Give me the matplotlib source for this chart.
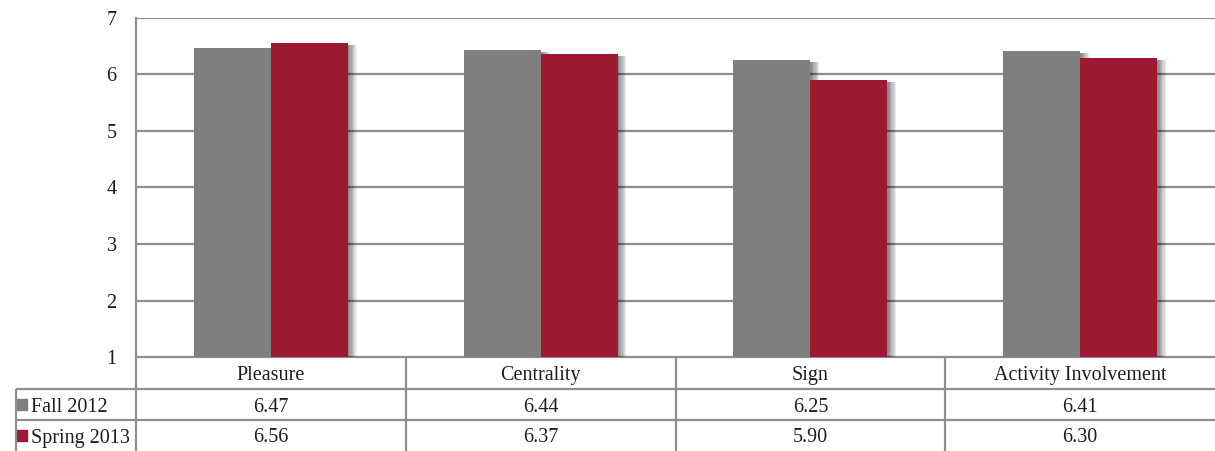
import matplotlib
matplotlib.use("Agg")
import matplotlib.pyplot as plt
import matplotlib.patheffects as pe
from matplotlib.transforms import blended_transform_factory

# Survey dimension means by term
categories = ["Pleasure", "Centrality", "Sign", "Activity Involvement"]
series_names = ["Fall 2012", "Spring 2013"]
fall_2012 = [6.47, 6.44, 6.25, 6.41]
spring_2013 = [6.56, 6.37, 5.90, 6.30]
y_ticks = [1, 2, 3, 4, 5, 6, 7]

colors = ["#7f7f7f", "#9b1a32"]
grid_color = "#8e8e8e"
FONT = ["Liberation Serif", "DejaVu Serif"]
plt.rcParams["font.family"] = FONT
FS = 14.5
TXT = "#1e1e1e"

W, H = 1215, 451
fig = plt.figure(figsize=(W / 100, H / 100), dpi=100)

# Full-figure overlay in pixel units for the data table
ov = fig.add_axes([0, 0, 1, 1])
ov.set_xlim(0, W)
ov.set_ylim(H, 0)
ov.axis("off")

left, right, top, bottom = 136, W, 18, 357
ax = fig.add_axes([left / W, (H - bottom) / H, (right - left) / W, (bottom - top) / H])
ax.set_xlim(-0.5, len(categories) - 0.5)
ax.set_ylim(1, 7)
ax.set_yticks(y_ticks)
ax.set_yticklabels([str(t) for t in y_ticks], fontsize=FS, color=TXT)
ax.tick_params(axis="y", length=0, pad=14)
ax.set_xticks([])
ax.yaxis.grid(True, color=grid_color, linewidth=1.6)
ax.set_axisbelow(True)
for s in ["right", "bottom", "top"]:
    ax.spines[s].set_visible(False)
ax.spines["left"].set_color(grid_color)
ax.spines["left"].set_linewidth(1.6)

# Soft drop shadow to the lower right of each bar
shadow = [pe.SimplePatchShadow(offset=(1.0 + 0.9 * i, -1.5), shadow_rgbFace="black",
                               alpha=0.08) for i in range(7)] + [pe.Normal()]

bw = 0.285
x = list(range(len(categories)))
for vals, off, col in [(fall_2012, -bw / 2, colors[0]), (spring_2013, bw / 2, colors[1])]:
    bars = ax.bar([xi + off for xi in x], vals, width=bw, color=col, zorder=3)
    for b in bars:
        b.set_path_effects(shadow)

# Data table beneath the plot
bt = blended_transform_factory(ax.transData, ov.transData)
row_cat, row1, row2, row_end = 357, 389, 420, H
lw = 1.6
ov.plot([left, W], [row_cat, row_cat], color=grid_color, lw=lw, solid_capstyle="butt")
ov.plot([16, W], [row1, row1], color=grid_color, lw=lw, solid_capstyle="butt")
ov.plot([16, W], [row2, row2], color=grid_color, lw=lw, solid_capstyle="butt")
ov.plot([16, 16], [row1, row_end], color=grid_color, lw=lw, solid_capstyle="butt")
ov.plot([left, left], [row_cat, row_end], color=grid_color, lw=lw, solid_capstyle="butt")
for i in range(1, len(categories)):
    ov.plot([i - 0.5, i - 0.5], [row_cat, row_end], color=grid_color, lw=lw,
            solid_capstyle="butt", transform=bt)

dy = 2.5
for i, c in enumerate(categories):
    ov.text(i, (row_cat + row1) / 2 + dy, c, ha="center", va="center", fontsize=FS,
            color=TXT, transform=bt)
    ov.text(i, (row1 + row2) / 2 + dy, f"{fall_2012[i]:.2f}", ha="center", va="center",
            fontsize=FS, color=TXT, transform=bt)
    ov.text(i, (row2 + row_end) / 2 + dy, f"{spring_2013[i]:.2f}", ha="center", va="center",
            fontsize=FS, color=TXT, transform=bt)

for name, col, (y0, y1) in zip(series_names, colors, [(row1, row2), (row2, row_end)]):
    yc = (y0 + y1) / 2
    ov.add_patch(plt.Rectangle((17, yc - 5.5), 10, 11, color=col))
    ov.text(31, yc + dy, name, ha="left", va="center", fontsize=FS, color=TXT)

fig.savefig("out.png", dpi=100)
